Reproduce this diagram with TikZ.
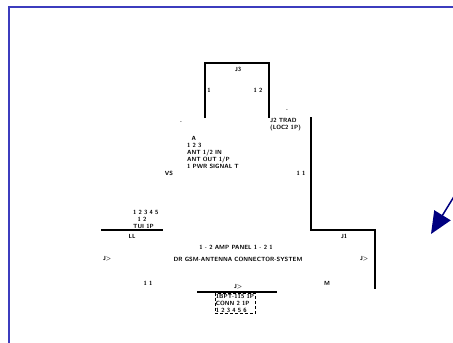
\documentclass[tikz,border=0pt]{standalone}
\usepackage{tikz}
\usetikzlibrary{arrows.meta,positioning}
\definecolor{framebl}{RGB}{60,60,190}
\definecolor{navyarr}{RGB}{0,0,128}

\begin{document}
\begin{tikzpicture}[
  x=1pt, y=-1pt,
  every node/.style={font=\sffamily\bfseries\fontsize{6}{7}\selectfont, inner sep=0pt},
  lbl/.style={align=center},
  blk/.style={align=left, anchor=north west},
  wire/.style={line width=1.4pt, black},
  tagbox/.style={draw, densely dashed, line width=0.5pt, inner sep=1pt, align=left},
  pointer/.style={navyarr, line width=1.5pt, -{Triangle[length=22pt,width=19pt]}}
]
  \useasboundingbox (0,0) rectangle (453,343);
  % frame
  \draw[framebl, line width=1.3pt] (9,7) rectangle (470,360);

  % corners of the wiring
  \coordinate (ta) at (205,118);
  \coordinate (tb) at (205,63);
  \coordinate (tc) at (269,63);
  \coordinate (td) at (269,118);
  \coordinate (ra) at (311,117);
  \coordinate (rb) at (311,230);
  \coordinate (rc) at (375,230);
  \coordinate (rd) at (375,289);
  \coordinate (la) at (101,230);
  \coordinate (lb) at (163,230);
  \coordinate (ba) at (197,292);
  \coordinate (bb) at (277,292);

  \draw[wire] (ta) -- (tb) -- (tc) -- (td);
  \draw[wire] (ra) -- (rb) -- (rc) -- (rd);
  \draw[wire] (la) -- (lb);
  \draw[wire] (ba) -- (bb);

  % labels
  \node[lbl] (jtop)  at (238,69)  {J3};
  \node[lbl] (ptl)   at (209,90)  {1};
  \node[lbl] (ptr)   at (258,90)  {1 2};
  \node[lbl] (dota)  at (287,110) {.};
  \node[lbl] (dotb)  at (181,122) {.};
  \node[blk] (jtrad) at (270,118) {J2 TRAD\\(LOC2 1P)};
  \node[blk] (ctrl)  at (187,136) {\ \ A\\1 2 3\\ANT 1/2 IN\\ANT OUT 1/P\\1 PWR SIGNAL T};
  \node[lbl] (vs)    at (169,173) {VS};
  \node[lbl] (vr)    at (301,173) {1 1};
  \node[blk] (ltag)  at (133,210) {1 2 3 4 5\\\ \ 1 2\\TUI 1P};
  \node[lbl] (ll)    at (132,236) {LL};
  \node[lbl] (jr)    at (344,236) {J1};
  \node[lbl] (main1) at (236,247) {1 - 2 AMP PANEL 1 - 2 1};
  \node[lbl] (main2) at (238,259) {DR GSM-ANTENNA CONNECTOR-SYSTEM};
  \node[lbl] (jl)    at (107,259) {J>};
  \node[lbl] (jrr)   at (364,259) {J>};
  \node[lbl] (pl)    at (148,283) {1 1};
  \node[lbl] (pm)    at (327,283) {M};
  \node[lbl] (jbot)  at (238,287) {J>};
  \node[tagbox, anchor=north] (btag) at (235,293) {1BPT-115 1P\\CONN 2 1P\\1 2 3 4 5 6};

  % pointer
  \coordinate (pstart) at (458,190);
  \coordinate (ptip) at (431,234);
  \draw[pointer] (pstart) -- (ptip);
\end{tikzpicture}
\end{document}
